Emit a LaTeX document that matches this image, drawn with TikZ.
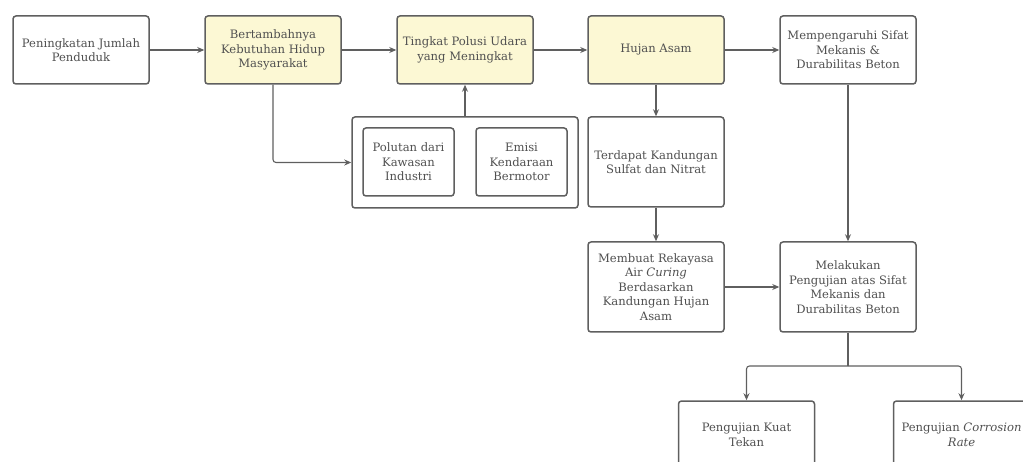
\documentclass[tikz,border=0pt]{standalone}
\usepackage{fontspec}
\setmainfont{DejaVu Serif}
\usetikzlibrary{arrows.meta}

\definecolor{boxline}{RGB}{95,95,95}
\definecolor{boxtext}{RGB}{80,80,80}
\definecolor{marked}{RGB}{252,248,212}

\begin{document}
\begin{tikzpicture}[x=1pt, y=-1pt,
    stage/.style={draw=boxline, line width=1.5pt, rounded corners=3pt, fill=white,
      text=boxtext, align=center, inner sep=0pt,
      font=\fontsize{11.6}{14.5}\selectfont},
    wide/.style={stage, minimum width=136pt, minimum height=68pt},
    tall/.style={stage, minimum width=136pt, minimum height=90pt},
    small/.style={stage, minimum width=91pt, minimum height=68pt},
    focus/.style={fill=marked},
    link/.style={draw=boxline, line width=1.1pt, rounded corners=3pt},
    arrow/.style={link, -{Stealth[length=7pt, width=6pt]}}]
  \useasboundingbox (0,0) rectangle (1023,462);
  \clip (0,0) rectangle (1023,462);

  % first row: from population growth to its effect on concrete
  \node[wide]        (penduduk) at (81,50)  {Peningkatan Jumlah\\Penduduk};
  \node[wide, focus] (kebutuhan) at (273,50) {Bertambahnya\\Kebutuhan Hidup\\Masyarakat};
  \node[wide, focus] (polusi)   at (465,50) {Tingkat Polusi Udara\\yang Meningkat};
  \node[wide, focus] (hujan)    at (656,50) {Hujan Asam};
  \node[wide]        (sifat)    at (848,50) {Mempengaruhi Sifat\\Mekanis \&\\Durabilitas Beton};

  % sources of pollution, grouped in one frame
  \node[stage, minimum width=226pt, minimum height=91pt] (sumber) at (465,162.5) {};
  \node[small] (industri) at (408.5,162) {Polutan dari\\Kawasan\\Industri};
  \node[small] (emisi)    at (521.5,162) {Emisi\\Kendaraan\\Bermotor};

  % research steps
  \node[tall] (sulfat)   at (656,162) {Terdapat Kandungan\\Sulfat dan Nitrat};
  \node[tall] (rekayasa) at (656,287) {Membuat Rekayasa\\Air \textit{Curing}\\Berdasarkan\\Kandungan Hujan\\Asam};
  \node[tall] (uji)      at (848,287) {Melakukan\\Pengujian atas Sifat\\Mekanis dan\\Durabilitas Beton};
  \node[wide] (tekan)    at (746.5,435) {Pengujian Kuat\\Tekan};
  \node[wide] (korosi)   at (961.5,435) {Pengujian \textit{Corrosion}\\\textit{Rate}};

  \draw[arrow] (penduduk) -- (kebutuhan);
  \draw[arrow] (kebutuhan) -- (polusi);
  \draw[arrow] (polusi) -- (hujan);
  \draw[arrow] (hujan) -- (sifat);
  \draw[arrow] (kebutuhan.south) |- (sumber.west);
  \draw[arrow] (sumber.north) -- (polusi.south);
  \draw[arrow] (hujan.south) -- (sulfat.north);
  \draw[arrow] (sulfat.south) -- (rekayasa.north);
  \draw[arrow] (rekayasa) -- (uji);
  \draw[arrow] (sifat.south) -- (uji.north);

  % the two tests branch off below
  \coordinate (cabang) at (848,366);
  \draw[link] (uji.south) -- (cabang);
  \draw[arrow] (cabang) -| (tekan.north);
  \draw[arrow] (cabang) -| (korosi.north);
\end{tikzpicture}
\end{document}
